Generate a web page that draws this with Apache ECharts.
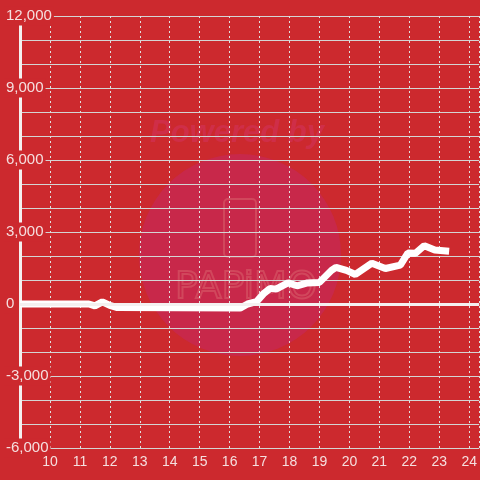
<!DOCTYPE html>
<html>
<head>
<meta charset="utf-8">
<script src="https://cdn.jsdelivr.net/npm/echarts@6/dist/echarts.min.js"></script>
<style>html,body{margin:0;padding:0;background:#cc292e;}#c{width:480px;height:480px;}</style>
</head>
<body>
<div id="c"></div>
<script>
const times  = [9, 11.3, 11.5, 11.75, 12.0, 12.25, 16.35, 16.6, 16.9, 17.15, 17.35, 17.55, 17.95, 18.25, 18.6, 19.0, 19.4, 19.55, 19.9, 20.2, 20.75, 21.2, 21.7, 21.95, 22.2, 22.5, 22.85, 23.33];
const values = [0, 0, -80, 90, -60, -150, -170, 0, 100, 450, 650, 620, 880, 760, 880, 900, 1400, 1530, 1400, 1230, 1700, 1480, 1620, 2120, 2110, 2430, 2250, 2200];
const xTicks = [10, 11, 12, 13, 14, 15, 16, 17, 18, 19, 20, 21, 22, 23, 24];
const yTicks = [-6000, -3000, 0, 3000, 6000, 9000, 12000];

const bg = '#cc292e';
const labelColor = '#f5dfdf';
const chart = echarts.init(document.getElementById('c'), null, {renderer: 'canvas'});
chart.setOption({
  backgroundColor: bg,
  animation: false,
  graphic: [
    {type: 'circle', z: -1, shape: {cx: 240, cy: 255, r: 101}, style: {fill: '#c8284a'}, silent: true},
    {type: 'text', z: -1, left: 150, top: 118, style: {text: 'Powered by', font: 'italic bold 31px "Liberation Sans", Arial', fill: '#cf2e48'}, silent: true},
    {type: 'rect', z: -1, shape: {x: 224, y: 199, width: 32, height: 58, r: 4}, style: {fill: 'none', stroke: '#d1475c', lineWidth: 2}, silent: true},
    {type: 'text', z: -1, left: 174, top: 268, style: {text: 'PAPiMO', font: '38px "DejaVu Sans", sans-serif', fill: 'none', stroke: '#d1475c', lineWidth: 2}, silent: true}
  ],
  grid: {left: 20, right: 0, top: 16, bottom: 32},
  xAxis: {
    type: 'value', min: 9, max: 24.333, interval: 1,
    axisLine: {show: false}, axisTick: {show: false},
    axisLabel: {
      color: labelColor, fontSize: 14, fontFamily: '"Liberation Sans", Arial', margin: 7,
      showMaxLabel: false,
      formatter: v => xTicks.indexOf(v) >= 0 ? String(v) : ''
    },
    splitLine: {show: true, lineStyle: {color: '#e0e0e0', type: [2, 3], width: 1}}
  },
  yAxis: {
    type: 'value', min: -6000, max: 12000, interval: 1000,
    axisLine: {show: true, onZero: false, lineStyle: {color: '#f4f0f0', width: 3}},
    axisTick: {show: false},
    axisLabel: {
      color: labelColor, fontSize: 15, fontFamily: '"Liberation Sans", Arial',
      align: 'left', margin: 16, backgroundColor: bg, padding: [2, 2],
      formatter: v => yTicks.indexOf(v) >= 0 ? v.toLocaleString('en-US') : ''
    },
    splitLine: {show: true, lineStyle: {color: '#d4d4d4', width: 1}}
  },
  series: [{
    type: 'line',
    data: times.map((t, i) => [t, values[i]]),
    showSymbol: false,
    lineStyle: {color: '#ffffff', width: 7},
    z: 3,
    markLine: {
      silent: true, symbol: 'none', label: {show: false},
      lineStyle: {color: '#f4f0f0', width: 3, type: 'solid'},
      data: [{yAxis: 0}]
    }
  }]
});
</script>
</body>
</html>
